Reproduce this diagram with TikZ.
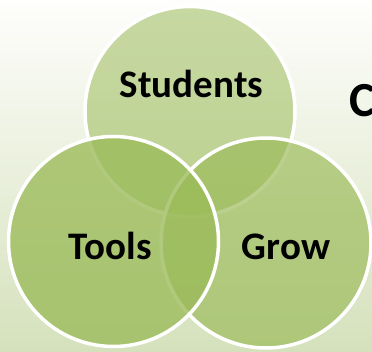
\documentclass[tikz,border=0pt]{standalone}
\usepackage{fontspec}
\setmainfont{Carlito}
\definecolor{venngreen}{HTML}{9BBB59}
\definecolor{bgtop}{HTML}{FEFEFC}
\definecolor{bgbottom}{HTML}{D5E1BC}
\tikzset{venn/.style={draw=white,line width=3.5pt,fill=venngreen},
  lbl/.style={inner sep=0pt,anchor=base,font=\bfseries\fontsize{39}{47}\selectfont}}
\begin{document}
\begin{tikzpicture}[x=1pt,y=-1pt,line join=round,line cap=round]
\shade[top color=bgtop,bottom color=bgbottom] (0,0) rectangle (372,352);
\useasboundingbox (0,0) rectangle (372,352);
\draw[venn,fill opacity=0.55] (190,111.5) circle(105pt);
\draw[venn,fill opacity=0.68] (266,243) circle(105pt);
\draw[venn,fill opacity=0.78] (113.5,241.5) circle(105pt);
\node[lbl] (students) at (191.5,98) {Students};
\node[lbl] (tools) at (110.5,259.5) {Tools};
\node[lbl] (grow) at (286,260) {Grow};
\node[inner sep=0pt,anchor=base west,font=\bfseries\fontsize{49}{59}\selectfont] (title) at (349.5,117) {C};
\end{tikzpicture}
\end{document}
